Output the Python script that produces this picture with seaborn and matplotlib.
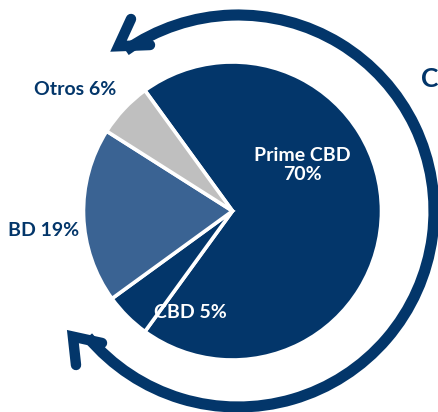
import numpy as np
import matplotlib
matplotlib.use("Agg")
import matplotlib.pyplot as plt
import matplotlib.patches as mpatches
import seaborn as sns

# Data
segments = ["Prime CBD", "CBD", "BD", "Otros"]
shares = [70, 5, 19, 6]
colors = ["#03366a", "#03366a", "#3a6393", "#bfbfbf"]
label_colors = ["white", "white", "#03366a", "#03366a"]

sns.set_theme(style="white")
plt.rcParams['font.family'] = ['Lato', 'DejaVu Sans']

W, H = 439, 412
fig = plt.figure(figsize=(W / 100, H / 100), dpi=100)
ax = fig.add_axes([0, 0, 1, 1])

def Y(y):
    # image pixel row -> data y (y up)
    return H - y

navy = "#03366a"

# pie
ax.pie(shares, colors=colors, startangle=126, counterclock=False,
       center=(232.5, Y(211)), radius=149,
       wedgeprops=dict(edgecolor="white", linewidth=2.6))

# labels
label_pos = [(302, 165), (190, 313), (44, 231), (75, 89)]
for seg, v, (x, y), c in zip(segments, shares, label_pos, label_colors):
    txt = f"{seg}\n{v}%" if seg == "Prime CBD" else f"{seg} {v}%"
    ax.text(x, Y(y), txt, ha="center", va="center", color=c,
            fontsize=14, fontweight="bold", linespacing=1.1)

# circular arrow around the pie
arc = mpatches.Arc((238, Y(211)), 2 * 196, 2 * 196, theta1=-140, theta2=125,
                   color=navy, lw=8, capstyle="butt")
ax.add_patch(arc)
heads = [
    [(131, 19), (118.5, 46.2), (150, 45)],
    [(102, 343), (72.9, 336.6), (76, 365)],
]
for pts in heads:
    xs = [p[0] for p in pts]
    ys = [Y(p[1]) for p in pts]
    ax.plot(xs, ys, color=navy, lw=7.5, solid_capstyle="round",
            solid_joinstyle="miter")

ax.text(421, Y(79), "C", ha="left", va="center", color=navy,
        fontsize=19, fontweight="bold")

ax.set_xlim(0, W)
ax.set_ylim(0, H)
ax.set_aspect("equal")
ax.axis("off")

fig.savefig("out.png", dpi=100)
